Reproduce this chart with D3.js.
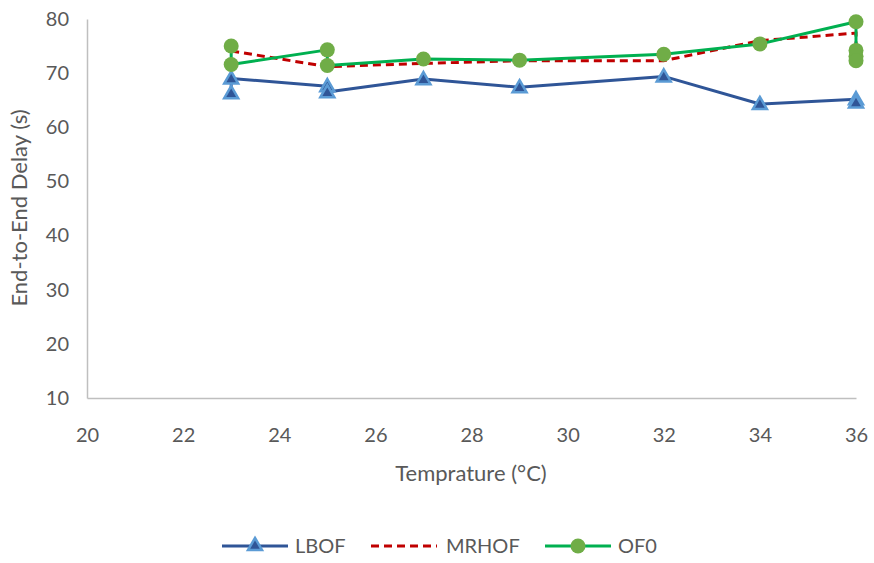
<!DOCTYPE html>
<html><head><meta charset="utf-8">
<script src="https://cdn.jsdelivr.net/npm/d3@7"></script>
<style>body{margin:0;background:#fff;} svg{display:block;}</style>
</head><body>
<svg id="c" width="874" height="563"></svg>
<script>
const xTicks = [20,22,24,26,28,30,32,34,36];
const yTicks = [10,20,30,40,50,60,70,80];
const lbofX = [23,23,25,25,27,29,32,34,36,36];
const lbofY = [66.3,69.0,67.6,66.5,68.9,67.4,69.4,64.3,65.2,64.6];
const mrhofX = [23,25,27,29,32,34,36,36];
const mrhofY = [74.1,71.2,71.8,72.3,72.3,76.0,77.4,71.6];
const of0X = [23,23,25,25,27,29,32,34,36,36,36,36];
const of0Y = [75.0,71.6,74.3,71.4,72.6,72.4,73.5,75.4,79.5,74.2,73.1,72.3];
const seriesNames = ["LBOF","MRHOF","OF0"];

const svg = d3.select("#c");
const font = "Lato, sans-serif";
const x = d3.scaleLinear().domain([20,36]).range([87,856]);
const y = d3.scaleLinear().domain([10,80]).range([398,19]);

const xa = svg.append("g").attr("transform","translate(0,398)")
  .call(d3.axisBottom(x).tickValues(xTicks).tickSize(0).tickPadding(34).tickSizeOuter(0));
const ya = svg.append("g").attr("transform","translate(87,0)")
  .call(d3.axisLeft(y).tickValues(yTicks).tickSize(0).tickPadding(18).tickSizeOuter(0));
[xa,ya].forEach(g=>{
  g.select(".domain").attr("stroke","#bfbfbf").attr("stroke-width",1.5);
  g.selectAll("text").attr("fill","#595959").style("font-family",font).style("font-size","20px");
});
xa.selectAll("text").attr("dy","0.5em");

svg.append("text").attr("x",471).attr("y",481).attr("text-anchor","middle")
  .attr("fill","#595959").style("font-family",font).style("font-size","22px").text("Temprature (°C)");
svg.append("text").attr("transform","translate(27,208) rotate(-90)").attr("text-anchor","middle")
  .attr("fill","#595959").style("font-family",font).style("font-size","22px").text("End-to-End Delay (s)");

const line = d3.line().x(d=>x(d[0])).y(d=>y(d[1]));
const lb = lbofX.map((v,i)=>[v,lbofY[i]]);
const mr = mrhofX.map((v,i)=>[v,mrhofY[i]]);
const of = of0X.map((v,i)=>[v,of0Y[i]]);

const tri = d3.symbol().type(d3.symbolTriangle).size(85);

svg.append("path").datum(lb).attr("d",line).attr("fill","none").attr("stroke","#2f5597").attr("stroke-width",3).attr("stroke-linejoin","round");
svg.selectAll(".tri").data(lb).enter().append("path")
  .attr("d",tri).attr("transform",d=>`translate(${x(d[0])},${y(d[1])+1})`)
  .attr("fill","#2f5597").attr("stroke","#5b9bd5").attr("stroke-width",2.5);

svg.append("path").datum(mr).attr("d",line).attr("fill","none").attr("stroke","#c00000").attr("stroke-width",3).attr("stroke-dasharray","8,5");

svg.append("path").datum(of).attr("d",line).attr("fill","none").attr("stroke","#00b050").attr("stroke-width",3).attr("stroke-linejoin","round");
svg.selectAll(".cir").data(of).enter().append("circle")
  .attr("cx",d=>x(d[0])).attr("cy",d=>y(d[1])).attr("r",7.5).attr("fill","#70ad47");

const ly = 546;
const lg = svg.append("g");
const items = [
  {x0:222,x1:288,tx:295,name:seriesNames[0]},
  {x0:371,x1:437,tx:446,name:seriesNames[1]},
  {x0:545,x1:611,tx:618,name:seriesNames[2]}
];
lg.append("line").attr("x1",items[0].x0).attr("x2",items[0].x1).attr("y1",ly).attr("y2",ly).attr("stroke","#2f5597").attr("stroke-width",3);
lg.append("path").attr("d",tri).attr("transform",`translate(${(items[0].x0+items[0].x1)/2},${ly})`).attr("fill","#2f5597").attr("stroke","#5b9bd5").attr("stroke-width",2.5);
lg.append("line").attr("x1",items[1].x0).attr("x2",items[1].x1).attr("y1",ly).attr("y2",ly).attr("stroke","#c00000").attr("stroke-width",3).attr("stroke-dasharray","8,5");
lg.append("line").attr("x1",items[2].x0).attr("x2",items[2].x1).attr("y1",ly).attr("y2",ly).attr("stroke","#00b050").attr("stroke-width",3);
lg.append("circle").attr("cx",(items[2].x0+items[2].x1)/2).attr("cy",ly).attr("r",7.5).attr("fill","#70ad47");
items.forEach(it=>{
  lg.append("text").attr("x",it.tx).attr("y",ly).attr("dy","0.35em").attr("fill","#595959")
    .style("font-family",font).style("font-size","20px").text(it.name);
});
</script>
</body></html>
